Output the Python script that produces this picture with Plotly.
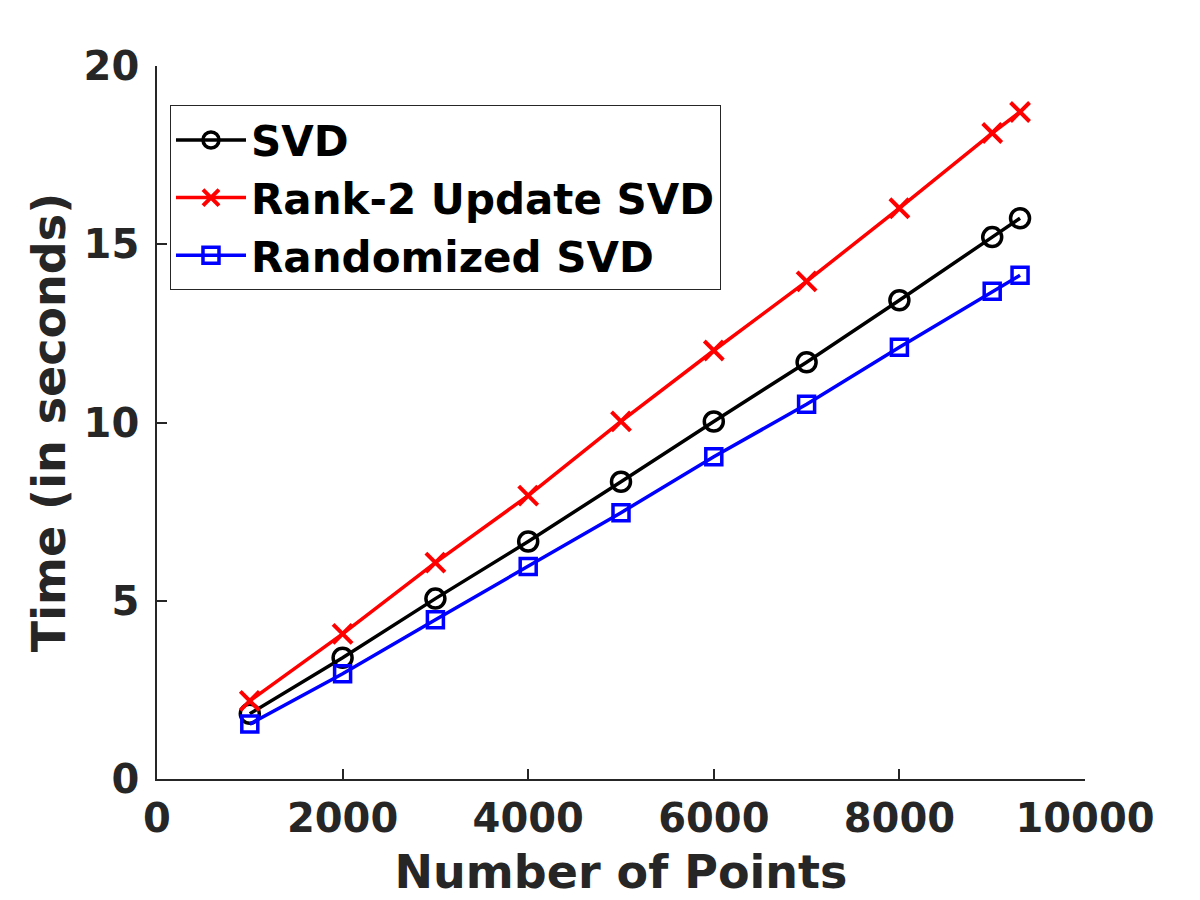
import plotly.graph_objects as go

# number of points used in each run
num_points = [1000, 2000, 3000, 4000, 5000, 6000, 7000, 8000, 9000, 9300]

# timings in seconds
svd_time = [1.83, 3.40, 5.06, 6.66, 8.34, 10.03, 11.69, 13.43, 15.20, 15.73]
rank2_time = [2.19, 4.07, 6.07, 7.95, 10.03, 12.02, 13.96, 16.01, 18.12, 18.71]
randomized_time = [1.54, 2.95, 4.47, 5.96, 7.47, 9.04, 10.51, 12.11, 13.68, 14.13]

x_ticks = [0, 2000, 4000, 6000, 8000, 10000]
y_ticks = [0, 5, 10, 15, 20]

font_family = "DejaVu Sans"
text_color = "#262626"

fig = go.Figure()

fig.add_trace(go.Scatter(
    x=num_points, y=svd_time, mode='lines+markers', name='<b>SVD</b>',
    line=dict(color='black', width=3.5),
    marker=dict(symbol='circle-open', size=19, color='black', line=dict(width=3.5))
))
fig.add_trace(go.Scatter(
    x=num_points, y=rank2_time, mode='lines+markers', name='<b>Rank-2 Update SVD</b>',
    line=dict(color='#ff0000', width=3.5),
    marker=dict(symbol='x-thin-open', size=19, color='#ff0000', line=dict(width=4, color='#ff0000'))
))
fig.add_trace(go.Scatter(
    x=num_points, y=randomized_time, mode='lines+markers', name='<b>Randomized SVD</b>',
    line=dict(color='#0000ff', width=3.5),
    marker=dict(symbol='square-open', size=16, color='#0000ff', line=dict(width=3.5))
))

# the page body adds an 8px offset, margins are set to compensate
fig.update_layout(
    width=1200, height=900,
    margin=dict(l=149, r=123, t=58, b=129),
    paper_bgcolor='white', plot_bgcolor='white',
    font=dict(family=font_family, size=40, color=text_color),
    showlegend=True,
    legend=dict(
        x=0.014, y=0.945, xanchor='left', yanchor='top',
        bgcolor='white', bordercolor=text_color, borderwidth=1,
        font=dict(family=font_family, size=42, color='black'),
        tracegroupgap=0, itemwidth=70,
    ),
    xaxis=dict(
        range=[0, 10000], tickvals=x_ticks, ticktext=[f'<b>{v}</b>' for v in x_ticks],
        showgrid=False, zeroline=False, showline=True, linecolor=text_color, linewidth=1.5,
        ticks='inside', ticklen=10, tickwidth=1.5, tickcolor=text_color, ticklabelstandoff=3,
        title=dict(text='<b>Number of Points</b>', font=dict(size=46), standoff=16),
    ),
    yaxis=dict(
        range=[0, 20], tickvals=y_ticks, ticktext=[f'<b>{v}</b>' for v in y_ticks],
        showgrid=False, zeroline=False, showline=True, linecolor=text_color, linewidth=1.5,
        ticks='inside', ticklen=10, tickwidth=1.5, tickcolor=text_color, ticklabelstandoff=8,
        title=dict(text='<b>Time (in seconds)</b>', font=dict(size=46), standoff=3),
    ),
)

fig.write_html("out.html")
